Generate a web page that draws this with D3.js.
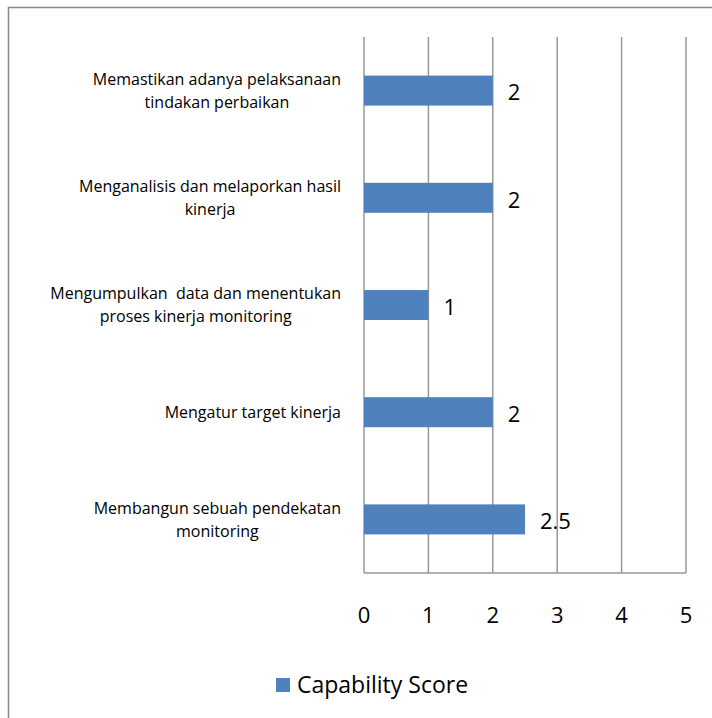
<!DOCTYPE html>
<html>
<head>
<meta charset="utf-8">
<script src="https://cdn.jsdelivr.net/npm/d3@7"></script>
<style>
  body { margin: 0; background: #fff; }
  text { font-family: "Open Sans", sans-serif; fill: #000; }
</style>
</head>
<body>
<script>
// categories (top to bottom) and values
var categories = [
  ["Memastikan adanya pelaksanaan", "tindakan perbaikan"],
  ["Menganalisis dan melaporkan hasil", "kinerja"],
  ["Mengumpulkan\u00a0 data dan menentukan", "proses kinerja monitoring"],
  ["Mengatur target kinerja"],
  ["Membangun sebuah pendekatan", "monitoring"]
];
var scores = [2, 2, 1, 2, 2.5];
var valueLabels = ["2", "2", "1", "2", "2.5"];
var xTicks = [0, 1, 2, 3, 4, 5];
var seriesName = "Capability Score";

var W = 712, H = 718;
var margin = {top: 37, left: 364, right: 26, bottom: 145};
var width = W - margin.left - margin.right,
    height = H - margin.top - margin.bottom;

var svg = d3.select("body").append("svg")
    .attr("width", W)
    .attr("height", H);

// outer frame
svg.append("rect")
    .attr("x", 8.5).attr("y", 7.5)
    .attr("width", 720).attr("height", 720)
    .attr("fill", "none")
    .attr("stroke", "#888")
    .attr("stroke-width", 1.5);

var g = svg.append("g")
    .attr("transform", "translate(" + margin.left + "," + margin.top + ")");

var x = d3.scaleLinear().domain([0, 5]).range([0, width]);
var y = d3.scaleBand()
    .domain(d3.range(categories.length))
    .range([0, height])
    .paddingInner(0.72)
    .paddingOuter(0.36);

// gridlines
g.selectAll(".grid")
    .data(xTicks)
  .enter().append("line")
    .attr("x1", function(d) { return x(d); })
    .attr("x2", function(d) { return x(d); })
    .attr("y1", 0)
    .attr("y2", height)
    .attr("stroke", "#999")
    .attr("stroke-width", 1.5);

// baseline
g.append("line")
    .attr("x1", 0).attr("x2", width)
    .attr("y1", height).attr("y2", height)
    .attr("stroke", "#999")
    .attr("stroke-width", 1.5);

// bars
g.selectAll(".bar")
    .data(scores)
  .enter().append("rect")
    .attr("x", x(0))
    .attr("y", function(d, i) { return y(i); })
    .attr("width", function(d) { return x(d) - x(0); })
    .attr("height", y.bandwidth())
    .attr("fill", "#4F81BD");

// value labels
g.selectAll(".val")
    .data(scores)
  .enter().append("text")
    .attr("x", function(d) { return x(d) + 15; })
    .attr("y", function(d, i) { return y(i) + y.bandwidth() / 2 + 2; })
    .attr("dy", "0.35em")
    .style("font-size", "22px")
    .text(function(d, i) { return valueLabels[i]; });

// x tick labels
g.selectAll(".tick-label")
    .data(xTicks)
  .enter().append("text")
    .attr("x", function(d) { return x(d); })
    .attr("y", height + 42)
    .attr("dy", "0.35em")
    .style("text-anchor", "middle")
    .style("font-size", "22px")
    .text(function(d) { return d; });

// category labels: lines centered in a block right-aligned at labelRight
var labelRight = -23, lineH = 23;
categories.forEach(function(lines, i) {
  var cy = y(i) + y.bandwidth() / 2;
  var t = g.append("text")
      .style("font-size", "16px")
      .style("text-anchor", "middle");
  var spans = lines.map(function(s, k) {
    return t.append("tspan")
        .attr("y", cy + (k - (lines.length - 1) / 2) * lineH)
        .attr("dy", "0.35em")
        .text(s);
  });
  var maxW = d3.max(spans, function(s) { return s.node().getComputedTextLength(); });
  spans.forEach(function(s) { s.attr("x", labelRight - maxW / 2); });
});

// legend
var legend = svg.append("g")
    .attr("transform", "translate(276,685)");
legend.append("rect")
    .attr("x", 0).attr("y", -7)
    .attr("width", 14).attr("height", 14)
    .attr("fill", "#4F81BD");
legend.append("text")
    .attr("x", 21).attr("y", 0)
    .attr("dy", "0.35em")
    .style("font-size", "23px")
    .text(seriesName);
</script>
</body>
</html>
